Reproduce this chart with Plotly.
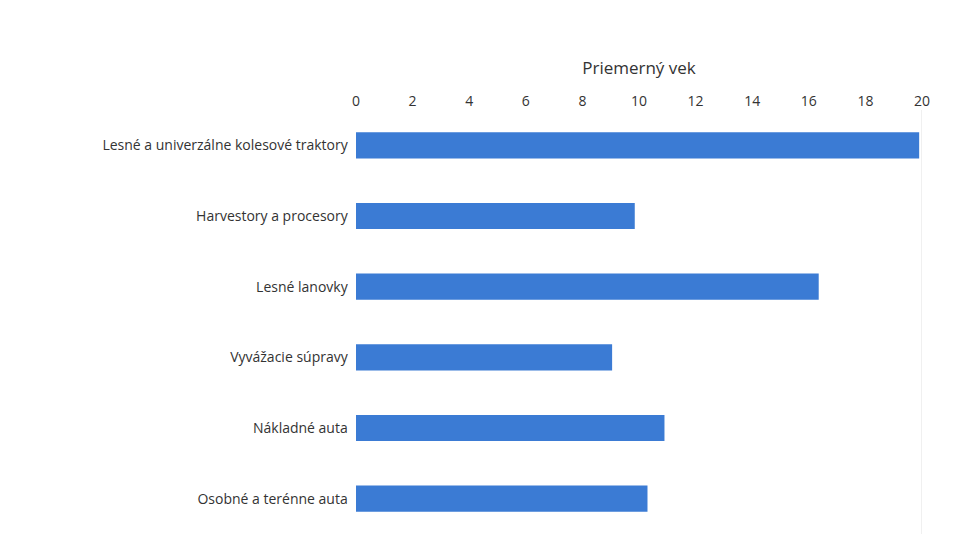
import plotly.graph_objects as go

categories = ["Lesné a univerzálne kolesové traktory", "Harvestory a procesory", "Lesné lanovky",
              "Vyvážacie súpravy", "Nákladné auta", "Osobné a terénne auta"]
values = [19.9, 9.85, 16.35, 9.05, 10.9, 10.3]
ticks = list(range(0, 21, 2))

fig = go.Figure(go.Bar(y=categories, x=values, orientation="h", width=0.37,
                       marker=dict(color="#3b7bd4", line=dict(width=0))))
fig.update_layout(
    width=969, height=545, paper_bgcolor="white", plot_bgcolor="white",
    margin=dict(l=348, r=55, t=102, b=19),
    font=dict(family="Open Sans", size=14, color="#333"),
    showlegend=False,
    xaxis=dict(side="top", range=[0, 20], tickvals=ticks, showgrid=False, zeroline=False,
               title=dict(text="Priemerný vek", standoff=12), ticks="", showline=False,
               tickfont=dict(size=14)),
    yaxis=dict(autorange="reversed", showgrid=False, ticks="", ticksuffix="  ", showline=False),
)
fig.add_shape(type="line", xref="x", yref="paper", x0=20, x1=20, y0=0, y1=1,
              line=dict(color="#e0e0e0", width=1))
fig.write_html("out.html")
